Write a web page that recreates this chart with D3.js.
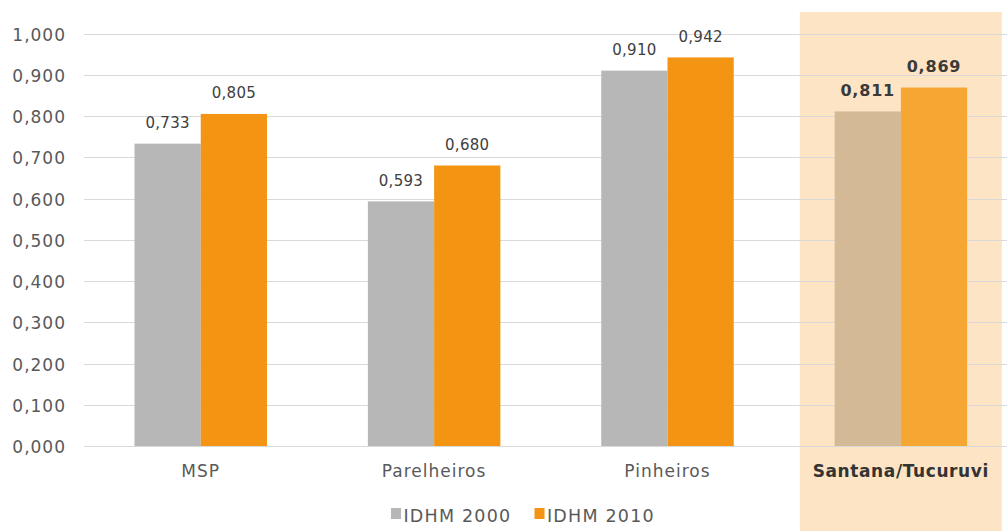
<!DOCTYPE html>
<html>
<head>
<meta charset="utf-8">
<script src="https://cdn.jsdelivr.net/npm/d3@7"></script>
<style>
  body { margin: 0; background: #fff; }
  svg { display: block; font-family: "DejaVu Sans", Verdana, sans-serif; }
</style>
</head>
<body>
<svg id="chart" width="1007" height="531"></svg>
<script>
// IDHM por região
const categories = ["MSP", "Parelheiros", "Pinheiros", "Santana/Tucuruvi"];
const series = ["IDHM 2000", "IDHM 2010"];
const idhm2000 = [0.733, 0.593, 0.910, 0.811];
const idhm2010 = [0.805, 0.680, 0.942, 0.869];
const yTicks = [0, 0.1, 0.2, 0.3, 0.4, 0.5, 0.6, 0.7, 0.8, 0.9, 1.0];
const highlighted = "Santana/Tucuruvi";

const colors = { "IDHM 2000": "#B7B7B7", "IDHM 2010": "#F39512" };
const hiColors = { "IDHM 2000": "#D3B995", "IDHM 2010": "#F6A632" };
const FONT = "DejaVu Sans, Verdana, sans-serif";

const svg = d3.select("#chart");
const fmt = v => d3.format(".3f")(v).replace(".", ",");

const x0 = d3.scaleBand().domain(categories).range([84, 1017.5]);
const x1 = d3.scaleBand().domain(series).range([50.5, 183]);
const y = d3.scaleLinear().domain([0, 1]).range([446, 33.5]);

// highlight panel behind the last category
const hx = x0(highlighted) + x0.bandwidth() / 2;
svg.append("rect")
  .attr("x", hx - 101).attr("y", 12)
  .attr("width", 202).attr("height", 531 - 12)
  .attr("fill", "#FDE4C4");

// gridlines
svg.append("g").selectAll("line").data(yTicks).join("line")
  .attr("x1", 84).attr("x2", 1007)
  .attr("y1", d => Math.round(y(d)) + 0.5).attr("y2", d => Math.round(y(d)) + 0.5)
  .attr("stroke", "#D9D9D9").attr("stroke-width", 1);

// y axis labels
const yAxis = d3.axisLeft(y).tickValues(yTicks).tickFormat(fmt).tickSize(0).tickPadding(0);
const gy = svg.append("g").attr("transform", "translate(66,0)").call(yAxis);
gy.select(".domain").remove();
gy.selectAll("text")
  .attr("dy", 6.5)
  .attr("fill", "#595959").attr("font-size", 17)
  .attr("letter-spacing", 1)
  .attr("font-family", FONT);

// bars
const rows = categories.map((c, i) => ({ c, vals: [
  { s: series[0], v: idhm2000[i] }, { s: series[1], v: idhm2010[i] } ] }));

const groups = svg.append("g").selectAll("g").data(rows).join("g")
  .attr("transform", d => `translate(${x0(d.c)},0)`);

groups.selectAll("rect").data(d => d.vals.map(v => ({ ...v, c: d.c }))).join("rect")
  .attr("x", d => x1(d.s)).attr("width", x1.bandwidth())
  .attr("y", d => y(d.v)).attr("height", d => y(0) - y(d.v))
  .attr("fill", d => d.c === highlighted ? hiColors[d.s] : colors[d.s]);

// value labels
groups.selectAll("text").data(d => d.vals.map(v => ({ ...v, c: d.c }))).join("text")
  .attr("x", d => x1(d.s) + x1.bandwidth() / 2)
  .attr("y", d => y(d.v) - 15.5)
  .attr("text-anchor", "middle")
  .attr("font-size", d => d.c === highlighted ? 16 : 15)
  .attr("letter-spacing", d => d.c === highlighted ? 0.8 : 0.3)
  .attr("font-weight", d => d.c === highlighted ? "bold" : "normal")
  .attr("fill", d => d.c === highlighted ? "#3A3A3A" : "#404040")
  .text(d => fmt(d.v));

// x axis
const xAxis = d3.axisBottom(x0).tickSize(0).tickPadding(0);
const gx = svg.append("g").attr("transform", "translate(0,477)").call(xAxis);
gx.select(".domain").remove();
gx.selectAll("text")
  .attr("dy", 0)
  .attr("font-size", 17)
  .attr("font-family", FONT)
  .attr("letter-spacing", d => d === highlighted ? 0.6 : 1)
  .attr("font-weight", d => d === highlighted ? "bold" : "normal")
  .attr("fill", d => d === highlighted ? "#333333" : "#595959");

// legend
const legend = svg.append("g").attr("transform", "translate(391,521.5)");
const items = [{ s: series[0], x: 0 }, { s: series[1], x: 143.5 }];
const li = legend.selectAll("g").data(items).join("g")
  .attr("transform", d => `translate(${d.x},0)`);
li.append("rect").attr("x", 0).attr("y", -13.5).attr("width", 10).attr("height", 11)
  .attr("fill", d => colors[d.s]);
li.append("text").attr("x", 12.5).attr("y", 0)
  .attr("font-size", 17.5).attr("letter-spacing", 1.2)
  .attr("fill", "#595959").text(d => d.s);
</script>
</body>
</html>
